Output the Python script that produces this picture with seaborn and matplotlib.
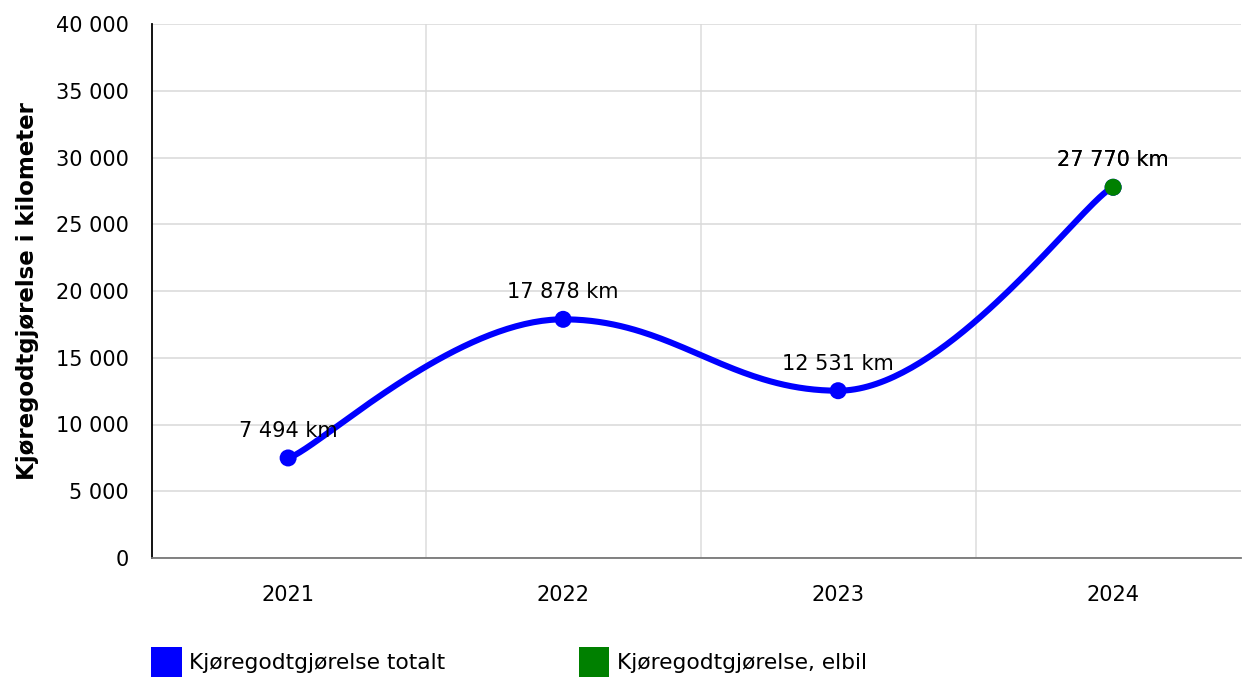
import numpy as np
import pandas as pd
import matplotlib
matplotlib.use("Agg")
import matplotlib.pyplot as plt
import seaborn as sns
from matplotlib.ticker import FuncFormatter, FixedLocator
from matplotlib.patches import Patch

# data
years = ["2021", "2022", "2023", "2024"]
km_total = [7494, 17878, 12531, 27770]
elbil_years = ["2024"]
km_elbil = [27770]
series_names = ["Kjøregodtgjørelse totalt", "Kjøregodtgjørelse, elbil"]
y_label = "Kjøregodtgjørelse i kilometer"

BLUE = "#0000ff"
GREEN = "#008000"


# smooth bezier line through the points: flat at local extremes,
# long control arms inside, short arms at both ends
def smooth_curve(x, y, n=80, inner_arm=0.4, end_arm=0.1):
    x = np.asarray(x, float)
    y = np.asarray(y, float)
    last = len(x) - 1
    m = np.zeros(len(x))
    for i in range(1, last):
        if (y[i] - y[i - 1]) * (y[i + 1] - y[i]) > 0:
            m[i] = (y[i + 1] - y[i - 1]) / (x[i + 1] - x[i - 1])
    m[0] = 0.5 * (y[1] - y[0]) / (x[1] - x[0])
    m[last] = 0.5 * (y[last] - y[last - 1]) / (x[last] - x[last - 1])
    xs, ys = [], []
    u = np.linspace(0, 1, n)
    for i in range(last):
        dx = x[i + 1] - x[i]
        a0 = end_arm if i == 0 else inner_arm
        a1 = end_arm if i + 1 == last else inner_arm
        px = [x[i], x[i] + a0 * dx, x[i + 1] - a1 * dx, x[i + 1]]
        py = [y[i], y[i] + m[i] * a0 * dx, y[i + 1] - m[i + 1] * a1 * dx, y[i + 1]]
        b = [(1 - u) ** 3, 3 * (1 - u) ** 2 * u, 3 * (1 - u) * u ** 2, u ** 3]
        xs.extend(sum(bk * pk for bk, pk in zip(b, px)))
        ys.extend(sum(bk * pk for bk, pk in zip(b, py)))
    return np.array(xs), np.array(ys)


def fmt(v):
    return f"{int(round(v)):,}".replace(",", " ")


sns.set_style("white")
plt.rcParams["font.family"] = ["DejaVu Sans"]
plt.rcParams["text.color"] = "black"
plt.rcParams["xtick.color"] = "black"
plt.rcParams["ytick.color"] = "black"

fig = plt.figure(figsize=(12.42, 6.77), dpi=100)
ax = fig.add_axes([152 / 1242, 1 - 558 / 677, (1241 - 152) / 1242, (558 - 24) / 677])

pos = np.arange(len(years))
cx, cy = smooth_curve(pos, km_total)
curve = pd.DataFrame({"x": cx, "y": cy})
sns.lineplot(data=curve, x="x", y="y", ax=ax, color=BLUE, linewidth=4.4,
             sort=False, estimator=None, zorder=3)

pts = pd.DataFrame({"x": pos, "y": km_total})
sns.scatterplot(data=pts, x="x", y="y", ax=ax, color=BLUE, s=150,
                edgecolor="none", zorder=4)

el = pd.DataFrame({"x": [years.index(yv) for yv in elbil_years], "y": km_elbil})
sns.scatterplot(data=el, x="x", y="y", ax=ax, color=GREEN, s=150,
                edgecolor="none", zorder=5)

for xi, yi in list(zip(pos, km_total)) + list(zip(el["x"], el["y"])):
    ax.annotate(f"{fmt(yi)} km", (xi, yi), xytext=(0, 15), textcoords="offset points",
                ha="center", va="baseline", fontsize=15, color="black", zorder=6)

ax.set_xlim(-0.495, 3.465)
ax.set_ylim(0, 40000)
ax.yaxis.set_major_locator(FixedLocator(np.arange(0, 40001, 5000)))
ax.yaxis.set_major_formatter(FuncFormatter(lambda v, p: fmt(v)))
ax.set_xticks(pos)
ax.set_xticklabels(years)
ax.set_xticks(pos[:-1] + 0.5, minor=True)

ax.grid(axis="y", color="#d9d9d9", linewidth=1.1)
ax.grid(axis="x", which="minor", color="#dcdcdc", linewidth=1.1)
ax.grid(axis="x", which="major", visible=False)
ax.set_axisbelow(True)

ax.tick_params(axis="y", which="major", length=8, width=1.2, color="black",
               labelcolor="black", labelsize=15, pad=9, direction="out")
ax.tick_params(axis="x", which="major", length=6.5, width=1, color="#b0b0b0",
               labelcolor="black", labelsize=15, pad=13, direction="out")
ax.tick_params(axis="x", which="minor", length=0)

for side in ["top", "right"]:
    ax.spines[side].set_visible(False)
ax.spines["left"].set_color("black")
ax.spines["left"].set_linewidth(1.3)
ax.spines["bottom"].set_color("#777777")
ax.spines["bottom"].set_linewidth(1.3)

ax.set_xlabel("")
ax.set_ylabel(y_label, fontsize=16.5, fontweight="bold", color="black")
ax.yaxis.set_label_coords(-0.104, 0.5)

handles = [Patch(facecolor=BLUE, edgecolor="none", label=series_names[0]),
           Patch(facecolor=GREEN, edgecolor="none", label=series_names[1])]
fig.legend(handles=handles, loc="center left", bbox_to_anchor=(151 / 1242, 1 - 662 / 677),
           ncol=2, frameon=False, fontsize=15.7, handlelength=1.4, handleheight=1.75,
           handletextpad=0.36, columnspacing=6.1, borderpad=0, borderaxespad=0)

fig.savefig("out.png", dpi=100)
